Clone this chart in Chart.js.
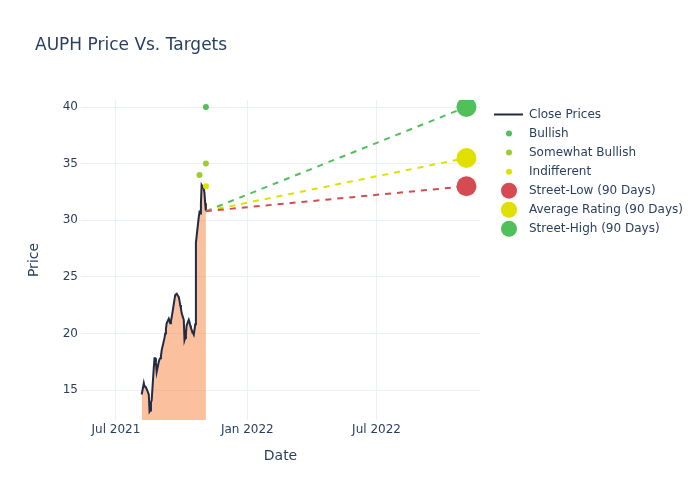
<!DOCTYPE html>
<html>
<head>
<meta charset="utf-8">
<title>AUPH Price Vs. Targets</title>
<script src="https://cdn.jsdelivr.net/npm/chart.js@4"></script>
<style>
  html, body { margin: 0; padding: 0; background: #fff; }
  #wrap { width: 700px; height: 500px; }
</style>
</head>
<body>
<div id="wrap"><canvas id="myChart" width="700" height="500"></canvas></div>
<script>
// Close prices (daily)
const priceDates = [
  '2021-08-06','2021-08-09','2021-08-10','2021-08-11','2021-08-12','2021-08-13',
  '2021-08-16','2021-08-17','2021-08-18','2021-08-19','2021-08-20',
  '2021-08-23','2021-08-24','2021-08-25','2021-08-26','2021-08-27',
  '2021-08-30','2021-08-31','2021-09-01','2021-09-02','2021-09-03',
  '2021-09-07','2021-09-08','2021-09-09','2021-09-10',
  '2021-09-13','2021-09-14','2021-09-15','2021-09-16','2021-09-17',
  '2021-09-20','2021-09-21','2021-09-22','2021-09-23','2021-09-24',
  '2021-09-27','2021-09-28','2021-09-29','2021-09-30','2021-10-01',
  '2021-10-04','2021-10-05','2021-10-06','2021-10-07','2021-10-08',
  '2021-10-11','2021-10-12','2021-10-13','2021-10-14','2021-10-15',
  '2021-10-18','2021-10-19','2021-10-20','2021-10-21','2021-10-22',
  '2021-10-25','2021-10-26','2021-10-27','2021-10-28','2021-10-29',
  '2021-11-01','2021-11-02','2021-11-03','2021-11-04'
];
const closePrices = [
  14.6, 15.6, 15.3, 15.3, 15.2, 15.1,
  14.6, 13.1, 13.2, 13.9, 14.1,
  17.0, 17.8, 17.8, 17.4, 16.6,
  17.5, 17.7, 17.8, 18.0, 18.5,
  19.6, 20.0, 20.4, 20.9,
  21.3, 21.1, 20.9, 21.1, 21.4,
  22.6, 23.0, 23.4, 23.4, 23.5,
  23.2, 22.9, 22.5, 22.2, 21.8,
  21.2, 19.4, 19.6, 20.0, 20.7,
  21.2, 21.0, 20.7, 20.5, 20.3,
  19.9, 20.3, 20.8, 28.0, 28.6,
  30.3, 30.7, 30.6, 31.5, 33.1,
  32.8, 32.4, 31.5, 30.8
];

// Analyst ratings
const bullishDates = ['2021-11-04'];
const bullishValues = [40];
const somewhatBullishDates = ['2021-10-26', '2021-11-04'];
const somewhatBullishValues = [34, 35];
const indifferentDates = ['2021-11-04'];
const indifferentValues = [33];

// Street targets (90 days)
const targetDate = '2022-11-04';
const streetLabels = ['Street-Low (90 Days)', 'Average Rating (90 Days)', 'Street-High (90 Days)'];
const streetValues = [33, 35.5, 40];
const streetColors = ['#d64b52', '#e0e000', '#50c05a'];

// Axis ticks
const xTickDates = ['2021-07-01', '2022-01-01', '2022-07-01'];
const xTickLabels = ['Jul 2021', 'Jan 2022', 'Jul 2022'];
const yTicks = [15, 20, 25, 30, 35, 40];

const chartTitle = 'AUPH Price Vs. Targets';
const textColor = '#2a3f5f';
const gridColor = '#ebf0f8';

const toPoints = (dates, values) => dates.map((d, i) => ({ x: Date.parse(d), y: values[i] }));

const lastDate = priceDates[priceDates.length - 1];
const lastClose = closePrices[closePrices.length - 1];

Chart.defaults.font.family = '"DejaVu Sans", Verdana, sans-serif';
Chart.defaults.color = textColor;

const datasets = [
  {
    type: 'line',
    label: 'Close Prices',
    data: toPoints(priceDates, closePrices),
    borderColor: '#222b45',
    borderWidth: 2,
    backgroundColor: 'rgba(247, 130, 60, 0.5)',
    fill: 'origin',
    pointRadius: 0,
    tension: 0,
    order: 10
  },
  {
    label: 'Bullish',
    data: toPoints(bullishDates, bullishValues),
    backgroundColor: '#50c05a',
    borderWidth: 0,
    pointRadius: 3,
    order: 2
  },
  {
    label: 'Somewhat Bullish',
    data: toPoints(somewhatBullishDates, somewhatBullishValues),
    backgroundColor: '#9acd32',
    borderWidth: 0,
    pointRadius: 3,
    order: 2
  },
  {
    label: 'Indifferent',
    data: toPoints(indifferentDates, indifferentValues),
    backgroundColor: '#e0e000',
    borderWidth: 0,
    pointRadius: 3,
    order: 2
  }
];

// big target markers + dashed trend lines from last close
streetLabels.forEach((lbl, i) => {
  datasets.push({
    label: lbl,
    data: [{ x: Date.parse(targetDate), y: streetValues[i] }],
    backgroundColor: streetColors[i],
    borderWidth: 0,
    pointRadius: 10,
    order: 1
  });
});
streetLabels.forEach((lbl, i) => {
  datasets.push({
    type: 'line',
    label: '',
    data: [{ x: Date.parse(lastDate), y: lastClose }, { x: Date.parse(targetDate), y: streetValues[i] }],
    borderColor: streetColors[i],
    borderWidth: 2,
    borderDash: [6, 6],
    pointRadius: 0,
    fill: false,
    order: 5
  });
});

// Title + legend drawn on the right, plotly style
const sideLegend = {
  id: 'sideLegend',
  afterDraw(chart) {
    const ctx = chart.ctx;
    ctx.save();
    ctx.fillStyle = textColor;
    ctx.textBaseline = 'middle';
    ctx.font = '17px "DejaVu Sans"';
    ctx.fillText(chartTitle, 35, 45.5);

    ctx.font = '12px "DejaVu Sans"';
    let y = 114.5;
    chart.data.datasets.forEach(ds => {
      if (!ds.label) return;
      if (ds.type === 'line') {
        ctx.strokeStyle = ds.borderColor;
        ctx.lineWidth = 2;
        ctx.beginPath();
        ctx.moveTo(494, y);
        ctx.lineTo(523, y);
        ctx.stroke();
      } else {
        ctx.fillStyle = ds.backgroundColor;
        ctx.beginPath();
        ctx.arc(509, y, ds.pointRadius > 5 ? 8 : 3, 0, Math.PI * 2);
        ctx.fill();
      }
      ctx.fillStyle = textColor;
      ctx.fillText(ds.label, 529, y + 0.5);
      y += 19.05;
    });
    ctx.restore();
  }
};

const myChart = document.getElementById('myChart');

new Chart(myChart, {
  type: 'scatter',
  data: { datasets: datasets },
  options: {
    responsive: false,
    animation: false,
    layout: { padding: { top: 100, right: 220, bottom: 0, left: 0 } },
    plugins: {
      legend: { display: false },
      title: { display: false },
      tooltip: { enabled: false }
    },
    scales: {
      x: {
        type: 'linear',
        min: Date.parse('2021-05-13'),
        max: Date.parse('2022-11-23'),
        afterBuildTicks: s => { s.ticks = xTickDates.map(d => ({ value: Date.parse(d) })); },
        afterFit: s => { s.height = 80; },
        ticks: {
          padding: 3,
          font: { size: 12 },
          maxRotation: 0,
          callback: (v, i) => xTickLabels[i]
        },
        grid: { color: gridColor, drawTicks: false },
        border: { display: false },
        title: { display: true, text: 'Date', font: { size: 14 }, padding: { top: 0, bottom: 35 } }
      },
      y: {
        type: 'linear',
        min: 12.35,
        max: 40.62,
        afterBuildTicks: s => { s.ticks = yTicks.map(v => ({ value: v })); },
        afterFit: s => { s.width = 81; },
        ticks: { padding: 3, font: { size: 12 } },
        grid: { color: gridColor, drawTicks: false },
        border: { display: false },
        title: { display: true, text: 'Price', font: { size: 14 }, padding: { top: 26, bottom: 0 } }
      }
    }
  },
  plugins: [sideLegend]
});
</script>
</body>
</html>
